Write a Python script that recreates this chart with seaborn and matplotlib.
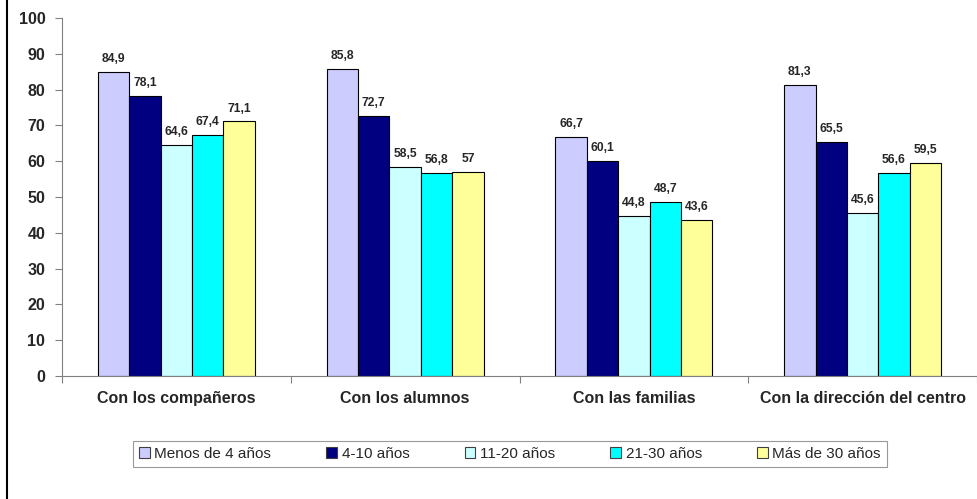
import numpy as np
import pandas as pd
import matplotlib
matplotlib.use("Agg")
import matplotlib.pyplot as plt
import seaborn as sns
from matplotlib.lines import Line2D

categorias = ["Con los compañeros", "Con los alumnos", "Con las familias",
              "Con la dirección del centro"]
grupos = ["Menos de 4 años", "4-10 años", "11-20 años", "21-30 años", "Más de 30 años"]
menos_4 = [84.9, 85.8, 66.7, 81.3]
de_4_10 = [78.1, 72.7, 60.1, 65.5]
de_11_20 = [64.6, 58.5, 44.8, 45.6]
de_21_30 = [67.4, 56.8, 48.7, 56.6]
mas_30 = [71.1, 57, 43.6, 59.5]
colores = ["#CCCCFF", "#000080", "#CCFFFF", "#00FFFF", "#FFFF99"]

series = [menos_4, de_4_10, de_11_20, de_21_30, mas_30]
rows = []
for g, vals in zip(grupos, series):
    for c, v in zip(categorias, vals):
        rows.append({"categoria": c, "grupo": g, "valor": v})
df = pd.DataFrame(rows)

sns.set_style("ticks")
plt.rcParams["font.family"] = ["Liberation Sans", "DejaVu Sans"]

fig = plt.figure(figsize=(9.78, 4.99), dpi=100)
ax = fig.add_axes([62 / 978, 1 - 376 / 499, 915 / 978, (376 - 18) / 499])

sns.barplot(data=df, x="categoria", y="valor", hue="grupo", order=categorias,
            hue_order=grupos, palette=colores, saturation=1, edgecolor="black",
            linewidth=0.8, width=0.686, gap=0, ax=ax, legend=False)

for cont, vals in zip(ax.containers, series):
    labels = [f"{v:g}".replace(".", ",") for v in vals]
    ax.bar_label(cont, labels=labels, padding=5, fontsize=8.7, fontweight="bold")

ax.set_ylim(0, 100)
ax.set_xlim(-0.5, 3.5)
ax.set_yticks(np.arange(0, 101, 10))
ax.set_xlabel("")
ax.set_ylabel("")
ax.set_xticks(range(4))
ax.set_xticklabels(categorias, fontsize=11.5, fontweight="bold")
ax.set_xticks(np.arange(-0.5, 4, 1), minor=True)
ax.tick_params(axis="x", which="major", bottom=False, length=0, pad=11)
ax.tick_params(axis="x", which="minor", bottom=True, length=5, width=0.8,
               color="#808080", direction="out")
ax.tick_params(axis="y", left=True, length=5, width=0.8, color="#808080",
               direction="out", pad=7)
for lab in ax.get_yticklabels():
    lab.set_fontweight("bold")
    lab.set_fontsize(11.5)
sns.despine(ax=ax)
ax.spines["left"].set_color("#808080")
ax.spines["bottom"].set_color("#808080")
ax.spines["left"].set_linewidth(0.8)
ax.spines["bottom"].set_linewidth(0.8)

handles = [plt.Rectangle((0, 0), 1, 1, facecolor=c, edgecolor="#404040", linewidth=0.8)
           for c in colores]
leg = fig.legend(handles, grupos, loc="center", ncol=5, mode="expand",
                 bbox_to_anchor=(133 / 978, 1 - 470 / 499, 754 / 978, 32 / 499),
                 bbox_transform=fig.transFigure, frameon=True, fancybox=False,
                 edgecolor="#808080", fontsize=11, handlelength=0.7,
                 handleheight=0.7, handletextpad=0.3, borderaxespad=0)
leg.get_frame().set_linewidth(0.8)

fig.add_artist(Line2D([7 / 978, 7 / 978], [0, 1], color="black", linewidth=1.5,
                      transform=fig.transFigure))

fig.savefig("out.png", dpi=100)
